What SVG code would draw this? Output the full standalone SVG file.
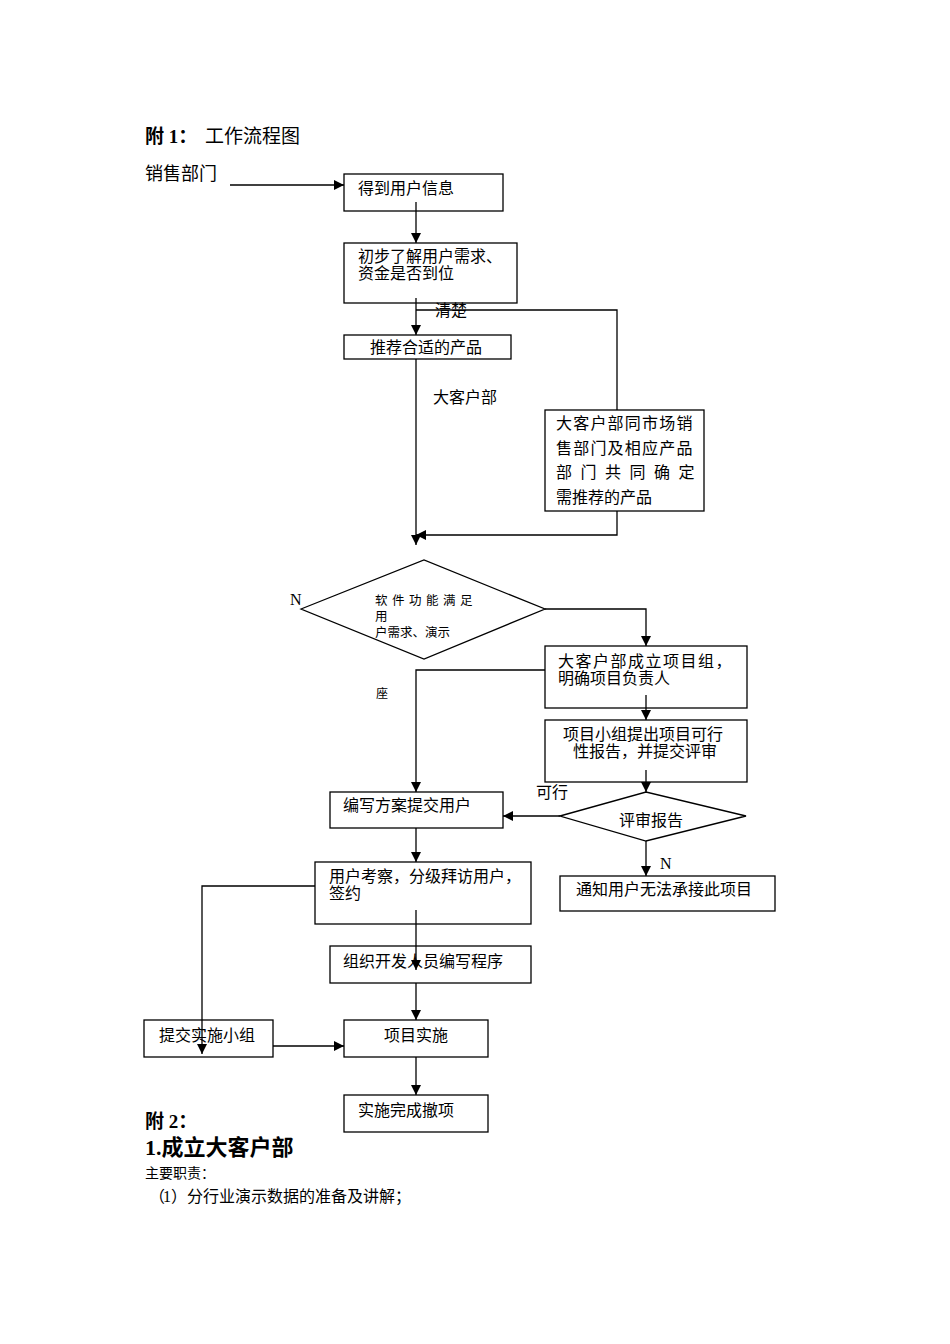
<svg xmlns="http://www.w3.org/2000/svg" width="950" height="1344" viewBox="0 0 950 1344">
<style>
text{font-family:"Liberation Serif","Noto Sans CJK SC",serif;fill:#000}
.t{font-size:16px}
.box{fill:#fff;stroke:#000;stroke-width:1.3}
.ln{fill:none;stroke:#000;stroke-width:1.3}
.b{font-weight:bold}
</style>
<defs>
<marker id="ah" viewBox="0 0 10 10" refX="10" refY="5" markerWidth="10" markerHeight="10" markerUnits="userSpaceOnUse" orient="auto">
<path d="M0,0 L10,5 L0,10 z" fill="#000"/>
</marker>
</defs>
<rect width="950" height="1344" fill="#fff"/>
<g id="header">
<text x="145" y="143" style="font-size:19px" class="b">附 1：</text>
<text x="205" y="143" style="font-size:19px">工作流程图</text>
<text x="145" y="180" style="font-size:18px">销售部门</text>
</g>
<g id="n1"><rect class="box" x="344" y="174" width="159" height="37"/><text class="t" x="358" y="194">得到用户信息</text></g>
<g id="n2"><rect class="box" x="344" y="243" width="173" height="60"/><text class="t" x="358" y="262">初步了解用户需求、</text><text class="t" x="358" y="279">资金是否到位</text></g>
<g id="n3"><rect class="box" x="344" y="335" width="167" height="24"/><text class="t" x="370" y="353">推荐合适的产品</text></g>
<g id="n4"><rect class="box" x="545" y="410" width="159" height="101"/>
<text class="t" x="556" y="429" style="letter-spacing:1.2px">大客户部同市场销</text>
<text class="t" x="556" y="454" style="letter-spacing:1.2px">售部门及相应产品</text>
<text class="t" x="556" y="478" style="letter-spacing:8.5px">部门共同确定</text>
<text class="t" x="556" y="503">需推荐的产品</text></g>
<g id="d1"><polygon class="box" points="301,609 424,560 545,609 424,659"/>
<text x="375" y="605" style="font-size:12.5px;letter-spacing:4.5px">软件功能满足</text>
<text x="375" y="621" style="font-size:12.5px">用</text>
<text x="375" y="637" style="font-size:12.5px">户需求、演示</text></g>
<g id="n5"><rect class="box" x="545" y="646" width="202" height="62"/><text class="t" x="558" y="667" style="letter-spacing:1.5px">大客户部成立项目组，</text><text class="t" x="558" y="684">明确项目负责人</text></g>
<g id="n6"><rect class="box" x="545" y="720" width="202" height="62"/><text class="t" x="563" y="740">项目小组提出项目可行</text><text class="t" x="573" y="757">性报告，并提交评审</text></g>
<g id="d2"><polygon class="box" points="560,816 646,792 746,816 646,841"/><text class="t" x="619" y="826">评审报告</text></g>
<g id="n7"><rect class="box" x="330" y="792" width="173" height="36"/><text class="t" x="343" y="811">编写方案提交用户</text></g>
<g id="n13"><rect class="box" x="560" y="876" width="215" height="35"/><text class="t" x="576" y="895">通知用户无法承接此项目</text></g>
<g id="n8"><rect class="box" x="315" y="862" width="216" height="62"/><text class="t" x="329" y="882">用户考察，分级拜访用户，</text><text class="t" x="329" y="899">签约</text></g>
<g id="n9"><rect class="box" x="330" y="946" width="201" height="37"/><text class="t" x="343" y="967">组织开发人员编写程序</text></g>
<g id="n10"><rect class="box" x="344" y="1020" width="144" height="37"/><text class="t" x="384" y="1041">项目实施</text></g>
<g id="n11"><rect class="box" x="144" y="1020" width="129" height="37"/><text class="t" x="159" y="1041">提交实施小组</text></g>
<g id="n12"><rect class="box" x="344" y="1095" width="144" height="37"/><text class="t" x="358" y="1116">实施完成撤项</text></g>
<g id="connectors">
<path class="ln" d="M230,185 H344" marker-end="url(#ah)"/>
<path class="ln" d="M416,202 V243" marker-end="url(#ah)"/>
<path class="ln" d="M416,298 V335" marker-end="url(#ah)"/>
<path class="ln" d="M416,310 H617 V410"/>
<path class="ln" d="M617,511 V535 H416" marker-end="url(#ah)"/>
<path class="ln" d="M416,359 V545" marker-end="url(#ah)"/>
<path class="ln" d="M545,609 H646 V646" marker-end="url(#ah)"/>
<path class="ln" d="M545,670 H416 V792" marker-end="url(#ah)"/>
<path class="ln" d="M646,695 V720" marker-end="url(#ah)"/>
<path class="ln" d="M646,770 V792" marker-end="url(#ah)"/>
<path class="ln" d="M560,816 H503" marker-end="url(#ah)"/>
<path class="ln" d="M646,841 V876" marker-end="url(#ah)"/>
<path class="ln" d="M416,828 V862" marker-end="url(#ah)"/>
<path class="ln" d="M315,886 H202 V1054" marker-end="url(#ah)"/>
<path class="ln" d="M416,910 V970" marker-end="url(#ah)"/>
<path class="ln" d="M416,983 V1020" marker-end="url(#ah)"/>
<path class="ln" d="M273,1046 H344" marker-end="url(#ah)"/>
<path class="ln" d="M416,1057 V1095" marker-end="url(#ah)"/>
</g>
<g id="labels">
<text class="t" x="435" y="316">清楚</text>
<text class="t" x="433" y="403">大客户部</text>
<text x="290" y="605" style="font-size:16px">N</text>
<text x="376" y="698" style="font-size:12px">座</text>
<text class="t" x="536" y="798">可行</text>
<text x="660" y="869" style="font-size:16px">N</text>
</g>
<g id="footer">
<text x="145" y="1128" style="font-size:19px" class="b">附 2：</text>
<text x="145" y="1155" style="font-size:22px" class="b">1.成立大客户部</text>
<text x="145" y="1178" style="font-size:14px">主要职责：</text>
<text y="1202" style="font-size:16px"><tspan x="149">（</tspan><tspan x="163">1</tspan><tspan x="171">）</tspan><tspan x="187">分行业演示数据的准备及讲解；</tspan></text>
</g>
</svg>
